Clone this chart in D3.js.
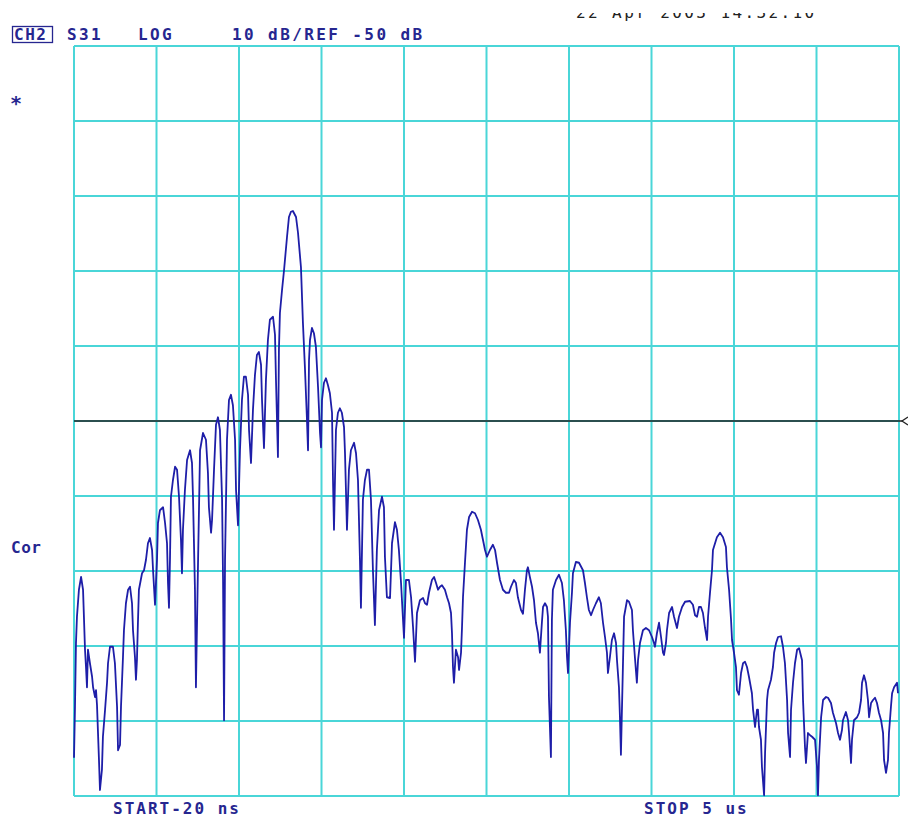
<!DOCTYPE html>
<html>
<head>
<meta charset="utf-8">
<script src="https://cdn.jsdelivr.net/npm/d3@7"></script>
<style>
  html, body { margin: 0; padding: 0; background: #fff; }
  svg { display: block; }
  .lbl { font-family: "DejaVu Sans Mono", monospace; font-size: 16px; font-weight: bold; fill: #262690; letter-spacing: 2.4px; }
</style>
</head>
<body>
<svg id="chart"></svg>
<script>
// time axis, microseconds (START -20 ns, STOP 5 us)
const startUs = -0.02;
const stopUs = 5.0;
const refDb = -50;
const dbPerDiv = 10;
const divisions = 10;

// trace: time (us) and S31 magnitude (dB)
const timeUs = [
  -0.020,-0.014,-0.008,-0.002,0.010,0.023,0.035,0.041,0.047,0.053,0.059,0.065,0.077,0.090,0.096,0.108,0.114,0.120,0.132,0.138,
  0.150,0.156,0.169,0.181,0.187,0.199,0.217,0.229,0.242,0.248,0.260,0.266,0.278,0.284,0.296,0.309,0.321,0.333,0.339,0.351,
  0.357,0.363,0.369,0.375,0.394,0.406,0.418,0.430,0.442,0.455,0.461,0.473,0.485,0.491,0.503,0.522,0.534,0.546,0.552,0.558,
  0.564,0.570,0.582,0.595,0.607,0.619,0.631,0.637,0.643,0.655,0.668,0.686,0.698,0.704,0.716,0.722,0.735,0.747,0.765,0.783,
  0.795,0.801,0.814,0.820,0.832,0.844,0.856,0.868,0.881,0.887,0.893,0.899,0.911,0.923,0.935,0.947,0.960,0.966,0.978,0.990,
  1.002,1.014,1.026,1.039,1.045,1.057,1.069,1.081,1.093,1.105,1.118,1.124,1.136,1.148,1.160,1.172,1.191,1.203,1.209,1.221,
  1.227,1.233,1.246,1.258,1.276,1.288,1.300,1.312,1.331,1.343,1.361,1.373,1.385,1.397,1.404,1.410,1.416,1.428,1.440,1.452,
  1.465,1.477,1.483,1.489,1.501,1.513,1.525,1.537,1.550,1.556,1.562,1.574,1.586,1.598,1.610,1.623,1.629,1.641,1.653,1.665,
  1.684,1.696,1.708,1.720,1.726,1.738,1.750,1.763,1.775,1.787,1.799,1.811,1.823,1.836,1.854,1.866,1.872,1.884,1.903,1.915,
  1.933,1.945,1.957,1.970,1.982,1.988,2.000,2.018,2.031,2.043,2.055,2.067,2.085,2.104,2.116,2.128,2.140,2.158,2.171,2.183,
  2.195,2.207,2.219,2.237,2.250,2.262,2.274,2.280,2.286,2.292,2.304,2.317,2.323,2.335,2.341,2.347,2.359,2.371,2.384,2.402,
  2.420,2.438,2.456,2.469,2.481,2.493,2.511,2.529,2.542,2.554,2.572,2.590,2.608,2.627,2.639,2.657,2.669,2.681,2.700,2.712,
  2.724,2.736,2.742,2.754,2.767,2.779,2.791,2.803,2.815,2.827,2.834,2.846,2.858,2.864,2.870,2.882,2.888,2.894,2.913,2.931,
  2.949,2.961,2.973,2.980,2.986,2.998,3.010,3.016,3.034,3.053,3.077,3.089,3.101,3.113,3.126,3.138,3.156,3.174,3.186,3.199,
  3.211,3.223,3.229,3.241,3.253,3.266,3.278,3.284,3.296,3.302,3.308,3.320,3.327,3.345,3.357,3.375,3.381,3.393,3.405,3.412,
  3.424,3.442,3.460,3.479,3.497,3.509,3.515,3.527,3.540,3.552,3.564,3.570,3.582,3.588,3.601,3.619,3.631,3.649,3.661,3.680,
  3.698,3.728,3.746,3.759,3.771,3.783,3.795,3.807,3.819,3.832,3.838,3.850,3.862,3.868,3.892,3.911,3.929,3.947,3.953,3.966,
  3.978,3.984,3.996,4.008,4.014,4.026,4.039,4.051,4.063,4.075,4.087,4.105,4.112,4.124,4.136,4.142,4.148,4.160,4.166,4.179,
  4.185,4.197,4.203,4.221,4.233,4.240,4.252,4.264,4.282,4.294,4.306,4.319,4.325,4.337,4.343,4.355,4.367,4.380,4.392,4.410,
  4.416,4.428,4.434,4.446,4.459,4.471,4.489,4.501,4.507,4.513,4.526,4.538,4.556,4.568,4.586,4.598,4.617,4.629,4.641,4.653,
  4.659,4.677,4.690,4.696,4.708,4.714,4.726,4.745,4.757,4.769,4.775,4.787,4.799,4.811,4.818,4.830,4.842,4.854,4.866,4.878,
  4.891,4.903,4.909,4.921,4.933,4.939,4.951,4.958,4.970,4.988,4.994
];
const s31dB = [
  -94.9,-88.1,-79.6,-76.1,-72.5,-70.8,-72.5,-76.5,-80.5,-82.8,-85.5,-80.5,-82.3,-84.1,-85.5,-86.8,-85.9,-87.9,-95.2,-99.2,
  -96.5,-92.1,-88.5,-84.9,-82.3,-80.1,-80.1,-82.3,-88.1,-93.9,-93.2,-88.1,-81.5,-77.9,-74.3,-72.5,-72.1,-74.3,-77.9,-81.5,
  -84.5,-81.9,-76.9,-72.5,-70.3,-69.9,-68.5,-66.3,-65.6,-67.2,-69.9,-74.5,-68.5,-63.6,-61.9,-61.5,-63.6,-66.3,-71.6,-74.9,
  -68.5,-60.1,-57.9,-56.1,-56.5,-60.1,-65.9,-70.3,-64.5,-59.2,-55.2,-53.9,-55.6,-60.1,-72.5,-85.5,-68.5,-53.9,-51.6,-52.5,
  -56.9,-61.5,-64.9,-63.2,-56.5,-50.5,-49.5,-51.2,-60.5,-71.2,-89.9,-68.5,-52.5,-47.2,-46.5,-47.9,-52.5,-59.2,-63.9,-53.9,
  -47.2,-44.1,-44.1,-46.5,-51.2,-55.6,-48.5,-43.9,-41.2,-40.8,-42.5,-47.2,-53.6,-44.5,-39.2,-36.5,-36.1,-38.5,-44.5,-54.8,
  -40.5,-35.6,-32.5,-29.9,-25.5,-22.8,-22.1,-22.0,-22.8,-24.9,-29.5,-36.9,-42.8,-49.5,-53.9,-41.9,-39.2,-37.6,-38.3,-40.1,
  -45.5,-51.6,-53.5,-47.2,-44.9,-44.3,-45.2,-46.3,-48.9,-57.9,-64.5,-51.2,-48.9,-48.3,-48.9,-50.8,-54.3,-64.5,-56.5,-53.9,
  -52.9,-54.3,-57.9,-68.5,-74.9,-60.5,-57.9,-56.5,-56.5,-60.5,-69.9,-77.2,-67.2,-61.9,-60.1,-61.5,-68.1,-73.5,-73.6,-66.3,
  -63.5,-64.5,-67.2,-71.6,-76.5,-78.9,-71.2,-71.2,-73.5,-77.5,-82.1,-75.6,-73.9,-73.6,-74.3,-74.5,-72.9,-71.2,-70.8,-71.6,
  -72.5,-72.1,-71.9,-72.5,-73.5,-74.3,-75.6,-78.3,-82.8,-84.9,-80.5,-81.5,-83.2,-80.9,-77.5,-73.5,-68.9,-64.5,-62.8,-62.1,
  -62.3,-63.2,-64.5,-65.9,-67.2,-68.1,-67.2,-66.5,-67.2,-68.9,-71.2,-72.5,-72.9,-72.9,-72.1,-71.2,-71.6,-73.5,-75.2,-75.7,
  -72.5,-69.9,-69.5,-70.8,-72.1,-73.9,-76.9,-78.3,-80.9,-76.9,-74.8,-74.3,-74.8,-76.1,-86.8,-94.8,-76.5,-72.5,-71.2,-70.5,
  -71.6,-73.9,-77.9,-81.5,-83.6,-76.9,-72.9,-70.3,-68.8,-68.9,-69.9,-71.6,-73.5,-75.2,-75.9,-75.2,-74.3,-73.5,-74.3,-76.9,
  -78.8,-80.9,-83.6,-81.5,-79.2,-78.3,-79.6,-81.9,-85.5,-89.5,-94.5,-82.8,-76.1,-73.9,-74.1,-75.2,-77.9,-81.5,-84.9,-81.9,
  -79.6,-77.9,-77.6,-77.9,-78.8,-79.6,-80.1,-78.3,-76.9,-78.8,-80.9,-81.2,-79.6,-77.9,-75.6,-74.8,-76.1,-77.6,-76.1,-74.8,
  -74.1,-74.0,-74.5,-75.9,-76.1,-74.8,-74.8,-75.6,-77.5,-79.2,-76.1,-72.9,-69.9,-67.2,-65.5,-64.9,-65.5,-66.8,-69.5,-72.5,
  -76.5,-79.2,-80.9,-82.8,-85.9,-86.5,-83.6,-82.3,-82.1,-82.8,-84.1,-86.3,-88.5,-90.8,-88.5,-88.5,-90.8,-92.5,-96.1,-99.9,
  -94.3,-87.2,-85.9,-84.5,-82.8,-80.9,-79.6,-78.8,-78.7,-80.1,-82.3,-87.2,-91.6,-94.8,-88.5,-84.9,-82.3,-80.5,-80.3,-81.9,
  -87.2,-93.5,-95.6,-91.6,-91.9,-92.1,-92.5,-96.1,-99.9,-95.2,-89.5,-87.2,-86.8,-86.9,-87.6,-88.9,-90.3,-91.6,-92.5,-91.2,
  -89.9,-88.8,-89.9,-91.6,-95.6,-92.5,-89.9,-89.5,-88.9,-87.2,-84.9,-83.9,-84.9,-87.2,-89.5,-87.6,-87.2,-86.9,-87.6,-88.9,
  -89.9,-91.6,-95.2,-96.9,-95.2,-91.6,-88.1,-86.3,-85.5,-84.9,-86.3
];

// screen annotations
const headerItems = ["S31", "LOG", "10 dB/REF -50 dB"];
const channelLabel = "CH2";
const startLabel = "START-20 ns";
const stopLabel = "STOP 5 us";
const dateLabel = "22 Apr 2003 14:32:10";
const sideLabels = ["*", "Cor"];

const width = 908;
const height = 819;
const margin = { top: 46, right: 9, bottom: 23, left: 74 };

const svg = d3.select("#chart")
  .attr("width", width)
  .attr("height", height);

svg.append("rect")
  .attr("width", width)
  .attr("height", height)
  .attr("fill", "#fff");

const x = d3.scaleLinear()
  .domain([startUs, stopUs])
  .range([margin.left, width - margin.right]);

const y = d3.scaleLinear()
  .domain([refDb - dbPerDiv * divisions / 2, refDb + dbPerDiv * divisions / 2])
  .range([height - margin.bottom, margin.top]);

const gridColor = "#4ad6d8";
const xDivs = d3.range(divisions + 1).map(i => startUs + i * (stopUs - startUs) / divisions);
const yDivs = d3.range(divisions + 1).map(i => y.domain()[0] + i * dbPerDiv);

const grid = svg.append("g");
grid.selectAll(".vline")
  .data(xDivs)
  .enter()
  .append("line")
  .attr("x1", d => x(d))
  .attr("x2", d => x(d))
  .attr("y1", y.range()[0])
  .attr("y2", y.range()[1])
  .attr("stroke", gridColor)
  .attr("stroke-width", 2);

grid.selectAll(".hline")
  .data(yDivs)
  .enter()
  .append("line")
  .attr("x1", x.range()[0])
  .attr("x2", x.range()[1])
  .attr("y1", d => y(d))
  .attr("y2", d => y(d))
  .attr("stroke", gridColor)
  .attr("stroke-width", 2);

// reference line and its marker
svg.append("line")
  .attr("x1", x.range()[0])
  .attr("x2", x.range()[1] + 4)
  .attr("y1", y(refDb))
  .attr("y2", y(refDb))
  .attr("stroke", "#222")
  .attr("stroke-width", 1.5);

svg.append("path")
  .attr("d", `M${x.range()[1] + 9},${y(refDb) - 4} L${x.range()[1] + 3},${y(refDb)} L${x.range()[1] + 9},${y(refDb) + 4}`)
  .attr("fill", "none")
  .attr("stroke", "#222")
  .attr("stroke-width", 1.3);

// trace
const trace = timeUs.map((t, i) => ({ t, db: s31dB[i] }));
const line = d3.line()
  .x(d => x(d.t))
  .y(d => y(d.db));

svg.append("path")
  .datum(trace)
  .attr("fill", "none")
  .attr("stroke", "#1e1ea8")
  .attr("stroke-width", 1.8)
  .attr("stroke-linejoin", "round")
  .attr("d", line);

// header text
svg.append("rect")
  .attr("x", 12.5)
  .attr("y", 26.5)
  .attr("width", 40)
  .attr("height", 16)
  .attr("fill", "none")
  .attr("stroke", "#262690")
  .attr("stroke-width", 1.3);

svg.append("text")
  .attr("class", "lbl")
  .attr("x", 14)
  .attr("y", 40)
  .style("letter-spacing", "1.5px")
  .text(channelLabel);

const headerX = [67, 138, 232];
svg.selectAll(".hdr")
  .data(headerItems)
  .enter()
  .append("text")
  .attr("class", "lbl")
  .attr("x", (d, i) => headerX[i])
  .attr("y", 40)
  .text(d => d);

// date line, cut off at the top like on the screen
svg.append("clipPath")
  .attr("id", "dateClip")
  .append("rect")
  .attr("x", 560)
  .attr("y", 13)
  .attr("width", 300)
  .attr("height", 8);

svg.append("text")
  .attr("class", "lbl")
  .attr("clip-path", "url(#dateClip)")
  .attr("x", 576)
  .attr("y", 18)
  .style("fill", "#222")
  .style("font-weight", "normal")
  .text(dateLabel);

svg.append("text")
  .attr("class", "lbl")
  .attr("x", 10)
  .attr("y", 110)
  .style("font-size", "20px")
  .text(sideLabels[0]);

svg.append("text")
  .attr("class", "lbl")
  .attr("x", 11)
  .attr("y", 553)
  .style("letter-spacing", "0.5px")
  .text(sideLabels[1]);

svg.append("text")
  .attr("class", "lbl")
  .attr("x", 113)
  .attr("y", 814)
  .style("letter-spacing", "2px")
  .text(startLabel);

svg.append("text")
  .attr("class", "lbl")
  .attr("x", 644)
  .attr("y", 814)
  .style("letter-spacing", "2px")
  .text(stopLabel);
</script>
</body>
</html>
